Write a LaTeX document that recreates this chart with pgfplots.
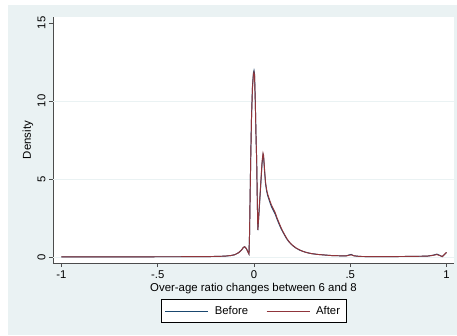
\documentclass[border=0pt]{standalone}
\usepackage{fontspec}
\setmainfont{Liberation Sans}
\usepackage{pgfplots}
\pgfplotsset{compat=1.18}
\definecolor{bgc}{HTML}{EAF2F3}
\definecolor{navy}{HTML}{1A476F}
\definecolor{maroon}{HTML}{90353B}
\begin{document}
\begin{tikzpicture}
\useasboundingbox (-53pt,-72pt) rectangle (404pt,263pt);
\fill[white] (-53pt,-72pt) rectangle (404pt,263pt);
\fill[bgc] (-45pt,-72pt) rectangle (404pt,258pt);
\begin{axis}[
  at={(0pt,0pt)}, anchor=south west,
  scale only axis, width=401pt, height=246pt,
  xmin=-1.044, xmax=1.039, ymin=-0.38, ymax=15.38,
  axis background/.style={fill=white},
  axis x line*=bottom, axis y line*=left,
  axis line style={black!70, line width=0.5pt, -},
  tick align=outside, major tick length=4pt,
  tick style={black!70, line width=0.5pt},
  xtick={-1,-0.5,0,0.5,1}, xticklabels={-1,-.5,0,.5,1},
  ytick={0,5,10,15}, yticklabels={0,5,10,15},
  yticklabel style={rotate=90, anchor=south},
  extra y ticks={0,5,10}, extra y tick labels={},
  extra y tick style={grid=major, major tick length=0pt},
  grid style={bgc, line width=0.8pt},
  tick label style={font=\fontsize{11.3}{13}\selectfont},
  label style={font=\fontsize{11.4}{13}\selectfont},
  xlabel={Over-age ratio changes between 6 and 8},
  ylabel={Density},
  xlabel style={at={(axis description cs:0.5,-0.1057)}, anchor=center},
  ylabel style={at={(axis description cs:-0.0623,0.5)}, anchor=center},
  legend columns=2,
  legend style={at={(axis description cs:0.5,-0.195)}, anchor=center,
    draw=black, line width=0.4pt, fill=white,
    font=\fontsize{11.3}{13}\selectfont,
    inner xsep=4pt, inner ysep=4.5pt,
    /tikz/every even column/.append style={column sep=16pt}},
  legend image code/.code={\draw[#1] (0pt,0pt) -- (43pt,0pt); \path (47pt,0pt);},
]
\addplot[navy, line width=0.95pt] coordinates {
(-1.00,0.01) (-0.90,0.01) (-0.80,0.01) (-0.70,0.01) (-0.60,0.015) (-0.50,0.02)
(-0.40,0.02) (-0.30,0.03) (-0.25,0.03) (-0.20,0.04) (-0.15,0.06) (-0.12,0.10)
(-0.10,0.15) (-0.08,0.28) (-0.065,0.45) (-0.055,0.62) (-0.048,0.66) (-0.040,0.55)
(-0.032,0.35) (-0.026,0.20) (-0.023,1.5) (-0.020,4.0) (-0.017,6.3) (-0.013,8.9)
(-0.008,10.9) (-0.003,11.8) (0.000,11.95) (0.003,11.7) (0.007,9.9) (0.011,7.5)
(0.014,6.2) (0.017,3.8) (0.020,1.72) (0.024,2.45) (0.030,3.6) (0.036,4.8)
(0.042,6.0) (0.047,6.55) (0.050,6.4) (0.055,5.5) (0.060,4.7) (0.066,4.2)
(0.072,3.9) (0.080,3.6) (0.090,3.25) (0.100,3.0) (0.110,2.75) (0.120,2.42)
(0.130,2.12) (0.140,1.84) (0.150,1.6) (0.160,1.38) (0.170,1.17) (0.180,1.0)
(0.190,0.86) (0.200,0.74) (0.220,0.56) (0.240,0.43) (0.260,0.34) (0.280,0.27)
(0.300,0.22) (0.330,0.17) (0.360,0.14) (0.400,0.10) (0.450,0.08) (0.480,0.08)
(0.495,0.14) (0.505,0.17) (0.520,0.08) (0.550,0.04) (0.600,0.03) (0.700,0.03)
(0.800,0.04) (0.900,0.06) (0.930,0.12) (0.950,0.19) (0.965,0.11) (0.978,0.03)
(0.990,0.17) (1.000,0.29)
};
\addlegendentry{Before}
\addplot[maroon, line width=0.95pt] coordinates {
(-1.00,0.01) (-0.90,0.01) (-0.80,0.01) (-0.70,0.01) (-0.60,0.015) (-0.50,0.02)
(-0.40,0.02) (-0.30,0.03) (-0.25,0.03) (-0.20,0.04) (-0.15,0.06) (-0.12,0.10)
(-0.10,0.15) (-0.08,0.28) (-0.065,0.45) (-0.055,0.62) (-0.048,0.66) (-0.040,0.55)
(-0.032,0.35) (-0.026,0.20) (-0.023,1.5) (-0.020,4.0) (-0.017,6.2) (-0.013,8.8)
(-0.008,10.8) (-0.003,11.7) (0.000,11.85) (0.003,11.6) (0.007,9.8) (0.011,7.5)
(0.014,6.2) (0.017,3.8) (0.020,1.75) (0.024,2.5) (0.030,3.7) (0.036,4.9)
(0.042,6.1) (0.047,6.65) (0.050,6.5) (0.055,5.6) (0.060,4.8) (0.066,4.3)
(0.072,4.0) (0.080,3.7) (0.090,3.35) (0.100,3.1) (0.110,2.85) (0.120,2.5)
(0.130,2.2) (0.140,1.9) (0.150,1.65) (0.160,1.42) (0.170,1.2) (0.180,1.02)
(0.190,0.88) (0.200,0.76) (0.220,0.57) (0.240,0.44) (0.260,0.34) (0.280,0.27)
(0.300,0.22) (0.330,0.17) (0.360,0.14) (0.400,0.10) (0.450,0.08) (0.480,0.08)
(0.495,0.12) (0.505,0.14) (0.520,0.08) (0.550,0.04) (0.600,0.03) (0.700,0.03)
(0.800,0.04) (0.900,0.06) (0.930,0.11) (0.950,0.16) (0.965,0.10) (0.978,0.03)
(0.990,0.18) (1.000,0.30)
};
\addlegendentry{After}
\end{axis}
\end{tikzpicture}
\end{document}
